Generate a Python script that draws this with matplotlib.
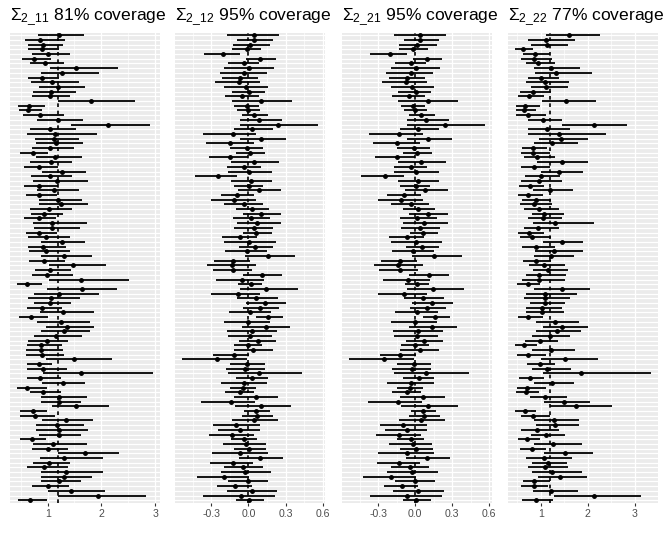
import matplotlib
matplotlib.use('Agg')
import matplotlib.pyplot as plt
import numpy as np

plt.rcParams['font.family'] = ['Liberation Sans', 'DejaVu Sans']
plt.rcParams['mathtext.fontset'] = 'custom'
plt.rcParams['mathtext.rm'] = 'Liberation Sans'
plt.rcParams['mathtext.it'] = 'Liberation Sans:italic'
plt.rcParams['mathtext.bf'] = 'Liberation Sans:bold'

# ---------------- data ----------------
names = ['2\\_11', '2\\_12', '2\\_21', '2\\_22']
coverage = [81, 95, 95, 77]
truth = [1.19, 0.0, 0.0, 1.2]

s11_lo = [0.82,0.58,0.64,0.63,0.70,0.53,0.68,1.05,0.88,0.64,
          0.69,0.84,0.73,0.70,1.20,0.44,0.47,0.54,0.81,1.43,
          0.67,0.61,0.77,0.79,0.71,0.48,0.79,0.67,0.56,0.89,
          0.69,0.73,0.56,0.80,0.59,0.83,0.83,0.68,0.69,0.56,
          0.72,0.74,0.59,0.64,0.88,0.63,0.66,0.88,0.66,1.03,
          0.76,0.70,1.03,0.43,0.98,0.75,0.63,0.74,0.61,0.86,
          0.47,0.81,0.96,0.88,0.75,0.64,0.61,0.59,0.59,0.96,
          0.61,0.61,0.92,0.61,0.89,0.42,0.67,0.87,0.87,1.08,
          0.49,0.49,0.89,0.78,0.78,0.83,0.48,0.72,0.71,1.19,
          0.85,0.73,0.61,0.87,0.88,0.87,0.71,1.00,1.20,0.45]
s11_est = [1.21,0.86,0.92,0.89,1.01,0.75,0.95,1.53,1.26,0.89,
           1.09,1.20,1.06,1.04,1.81,0.65,0.64,0.85,1.20,2.13,
           1.04,1.14,1.12,1.16,1.04,0.73,1.14,1.06,0.84,1.26,
           1.04,1.18,0.84,1.11,0.84,1.19,1.25,1.03,0.94,0.83,
           1.08,1.08,0.84,0.96,1.27,0.92,0.97,1.31,0.94,1.48,
           1.05,0.99,1.63,0.61,1.64,1.22,1.06,1.04,0.89,1.29,
           0.69,1.25,1.36,1.30,1.16,0.98,0.88,0.88,0.89,1.49,
           0.83,0.92,1.63,0.86,1.28,0.62,0.91,1.22,1.21,1.52,
           0.73,0.76,1.34,1.18,1.21,1.21,0.71,1.10,1.01,1.69,
           1.30,1.03,0.93,1.34,1.31,1.21,1.01,1.44,1.94,0.68]
s11_hi = [1.68,1.33,1.28,1.22,1.41,1.06,1.30,2.31,1.96,1.22,
          1.59,1.70,1.52,1.41,2.63,0.95,0.90,1.31,1.65,2.91,
          1.52,1.91,1.58,1.65,1.50,1.01,1.64,1.46,1.19,1.71,
          1.46,1.76,1.19,1.58,1.18,1.64,1.75,1.46,1.28,1.16,
          1.74,1.61,1.18,1.41,1.70,1.34,1.41,1.83,1.33,2.09,
          1.43,1.48,2.51,0.90,2.30,1.96,1.60,1.44,1.27,1.86,
          1.01,1.78,1.86,1.78,1.64,1.38,1.26,1.28,1.31,2.19,
          1.09,1.36,2.96,1.24,1.70,0.99,1.25,1.73,1.63,2.14,
          0.98,1.13,1.84,1.68,1.76,1.62,0.97,1.73,1.38,2.32,
          2.03,1.41,1.38,2.04,1.82,1.63,1.39,2.06,2.84,0.98]

s12_lo = [-0.172,-0.090,-0.128,-0.134,-0.363,-0.016,-0.164,-0.196,-0.232,-0.215,
          -0.270,-0.196,-0.136,-0.188,-0.136,-0.117,-0.093,-0.052,-0.068,-0.068,
          -0.120,-0.371,-0.065,-0.341,-0.150,-0.101,-0.322,-0.142,-0.172,-0.169,
          -0.436,-0.142,-0.120,-0.082,-0.224,-0.300,-0.196,-0.101,-0.046,-0.123,
          -0.095,-0.115,-0.044,-0.213,-0.196,-0.076,-0.191,-0.027,-0.278,-0.335,
          -0.289,-0.046,-0.264,-0.082,-0.068,-0.300,-0.090,-0.022,-0.044,-0.161,
          0.060,-0.199,-0.052,-0.177,-0.169,-0.074,-0.117,-0.120,-0.284,-0.537,
          -0.147,-0.185,-0.169,-0.101,-0.224,-0.150,-0.191,-0.120,-0.382,-0.112,
          -0.033,-0.049,-0.134,-0.284,-0.243,-0.316,-0.145,-0.210,-0.120,-0.297,
          -0.076,-0.311,-0.199,-0.226,-0.420,-0.164,-0.251,-0.177,-0.366,-0.101]
s12_est = [0.041,0.041,0.011,-0.014,-0.205,0.095,-0.033,0.008,-0.033,-0.065,
           -0.074,-0.022,0.008,-0.052,0.104,-0.014,0.000,0.044,0.087,0.240,
           0.027,-0.128,0.104,-0.147,-0.011,0.016,-0.150,0.049,-0.033,0.005,
           -0.245,0.022,0.005,0.082,-0.093,-0.117,-0.033,0.027,0.104,0.019,
           0.071,0.041,0.065,-0.068,0.005,0.055,-0.014,0.155,-0.123,-0.136,
           -0.123,0.109,-0.054,0.019,0.145,-0.087,0.060,0.136,0.095,0.011,
           0.158,-0.003,0.139,0.027,0.011,0.074,0.000,0.038,-0.120,-0.254,
           -0.008,-0.025,0.085,0.030,-0.033,-0.041,-0.068,0.063,-0.142,0.101,
           0.063,0.071,0.046,-0.098,-0.065,-0.131,-0.036,-0.019,0.008,-0.065,
           0.095,-0.128,-0.041,-0.025,-0.196,-0.003,-0.109,0.025,-0.063,0.005]
s12_hi = [0.251,0.196,0.175,0.104,-0.065,0.221,0.087,0.205,0.147,0.079,
          0.093,0.155,0.131,0.082,0.349,0.082,0.095,0.161,0.273,0.567,
          0.196,0.065,0.300,0.041,0.120,0.136,0.000,0.251,0.098,0.194,
          -0.090,0.191,0.120,0.267,0.049,0.065,0.115,0.164,0.262,0.175,
          0.265,0.199,0.188,0.068,0.221,0.196,0.150,0.376,0.014,0.060,
          0.027,0.273,0.123,0.112,0.398,0.095,0.237,0.308,0.251,0.183,
          0.281,0.175,0.338,0.229,0.188,0.226,0.109,0.196,0.005,-0.011,
          0.131,0.131,0.433,0.155,0.153,0.060,0.049,0.240,0.055,0.344,
          0.172,0.199,0.240,0.093,0.093,0.044,0.071,0.139,0.145,0.155,
          0.281,0.038,0.115,0.183,0.005,0.161,0.027,0.232,0.215,0.125]

# Sigma_21 intervals are identical to Sigma_12 (symmetric matrix)
s21_lo = list(s12_lo)
s21_est = list(s12_est)
s21_hi = list(s12_hi)

s22_lo = [1.11,0.74,0.79,0.45,0.63,0.59,0.69,0.86,0.88,0.72,
          0.68,0.79,0.56,0.51,1.02,0.47,0.48,0.47,0.72,1.46,
          0.72,0.74,0.96,0.86,0.61,0.58,0.64,0.93,0.59,1.01,
          0.66,0.59,0.54,0.84,0.51,0.61,0.56,0.64,0.81,0.74,
          0.84,0.64,0.51,0.56,1.04,0.61,0.88,0.86,0.63,0.75,
          0.83,0.68,0.61,0.49,0.85,0.69,0.65,0.77,0.69,0.68,
          0.51,0.89,1.04,0.89,0.81,0.67,0.45,0.82,0.49,1.00,
          0.70,0.81,1.04,0.54,0.86,0.49,0.47,0.77,1.08,1.20,
          0.46,0.58,0.86,0.89,0.58,0.79,0.51,0.86,0.57,1.08,
          0.68,0.82,0.74,0.82,0.95,0.63,0.59,0.83,1.29,0.61]
s22_est = [1.61,1.11,1.14,0.63,0.88,0.86,0.95,1.22,1.32,1.01,
           1.09,1.11,0.84,0.76,1.54,0.67,0.64,0.72,1.04,2.14,
           1.14,1.40,1.44,1.24,0.84,0.84,0.92,1.45,0.86,1.40,
           1.01,0.97,0.77,1.19,0.74,0.90,0.86,0.97,1.07,1.04,
           1.31,0.94,0.76,0.81,1.45,0.91,1.29,1.22,0.89,1.08,
           1.15,0.97,0.97,0.72,1.45,1.10,1.09,1.09,1.02,1.03,
           0.73,1.31,1.46,1.34,1.20,0.99,0.64,1.22,0.74,1.52,
           0.99,1.14,1.85,0.77,1.25,0.70,0.68,1.10,1.49,1.75,
           0.67,0.84,1.29,1.31,0.93,1.11,0.71,1.26,0.81,1.52,
           1.08,1.15,1.10,1.24,1.42,0.86,0.85,1.23,2.13,0.89]
s22_hi = [2.27,1.72,1.59,0.83,1.20,1.24,1.31,1.84,2.09,1.39,
          1.61,1.58,1.22,1.06,2.17,0.99,0.91,1.11,1.45,2.84,
          1.62,2.39,2.00,1.80,1.14,1.20,1.31,2.00,1.20,1.90,
          1.41,1.46,1.06,1.68,1.04,1.22,1.24,1.38,1.49,1.46,
          2.14,1.40,1.06,1.21,1.90,1.31,1.90,1.71,1.22,1.52,
          1.59,1.54,1.52,0.99,2.04,1.77,1.62,1.52,1.45,1.50,
          1.04,1.82,2.00,1.86,1.63,1.36,0.93,1.73,1.11,2.21,
          1.31,1.64,3.35,1.06,1.71,1.11,0.96,1.57,2.04,2.52,
          0.90,1.20,1.81,1.81,1.38,1.51,0.99,1.88,1.11,2.11,
          1.66,1.57,1.59,1.88,1.98,1.20,1.15,1.79,3.14,1.27]

x_major = [[1, 2, 3], [-0.3, 0.0, 0.3, 0.6], [-0.3, 0.0, 0.3, 0.6], [1, 2, 3]]
x_minor = [[0.5, 1.5, 2.5], [-0.45, -0.15, 0.15, 0.45], [-0.45, -0.15, 0.15, 0.45], [0.5, 1.5, 2.5]]
x_labels = [['1', '2', '3'], ['-0.3', '0.0', '0.3', '0.6'], ['-0.3', '0.0', '0.3', '0.6'], ['1', '2', '3']]

series = [(s11_lo, s11_est, s11_hi), (s12_lo, s12_est, s12_hi),
          (s21_lo, s21_est, s21_hi), (s22_lo, s22_est, s22_hi)]

# ---------------- layout ----------------
W, H = 664, 543
fig = plt.figure(figsize=(W / 100, H / 100), dpi=100)
lefts = [9.7, 175.3, 342.0, 508.0]
pw = 150.0
ptop, pbot = 32.5, 503.1

for k in range(4):
    lo, est, hi = (np.array(a) for a in series[k])
    n = len(est)
    y = np.arange(n, 0, -1)
    ax = fig.add_axes([lefts[k] / W, 1 - pbot / H, pw / W, (pbot - ptop) / H])
    ax.set_facecolor('#EBEBEB')
    for s in ax.spines.values():
        s.set_visible(False)
    ax.hlines(y, lo, hi, color='black', lw=1.3, zorder=3)
    ax.plot(est, y, 'o', ms=2.5, color='black', zorder=4)
    ax.axvline(truth[k], color='black', lw=1.2, ls=(0, (2.2, 2.2)), zorder=5)
    mn = min(lo.min(), truth[k]); mx = max(hi.max(), truth[k])
    r = mx - mn
    ax.set_xlim(mn - 0.05 * r, mx + 0.05 * r)
    ax.set_ylim(0.4, n + 0.6)
    ax.set_yticks(y)
    ax.set_yticklabels([])
    ax.tick_params(axis='y', length=0)
    ax.set_xticks(x_major[k])
    ax.set_xticklabels(x_labels[k])
    ax.set_xticks(x_minor[k], minor=True)
    ax.tick_params(axis='x', which='major', length=2.2, width=0.8, color='#333333',
                   labelsize=7.6, labelcolor='#4D4D4D', pad=1.8)
    ax.tick_params(axis='x', which='minor', length=0)
    ax.grid(True, which='major', color='white', lw=0.9, zorder=0)
    ax.grid(True, which='minor', axis='x', color='white', lw=0.45, zorder=0)
    ax.set_axisbelow(True)
    fig.text(lefts[k] / W, 1 - 20.7 / H,
             r'$\Sigma_{%s}$ %d%% coverage' % (names[k], coverage[k]),
             fontsize=12.6, ha='left', va='baseline', color='black')

fig.savefig('out.png', dpi=100)
